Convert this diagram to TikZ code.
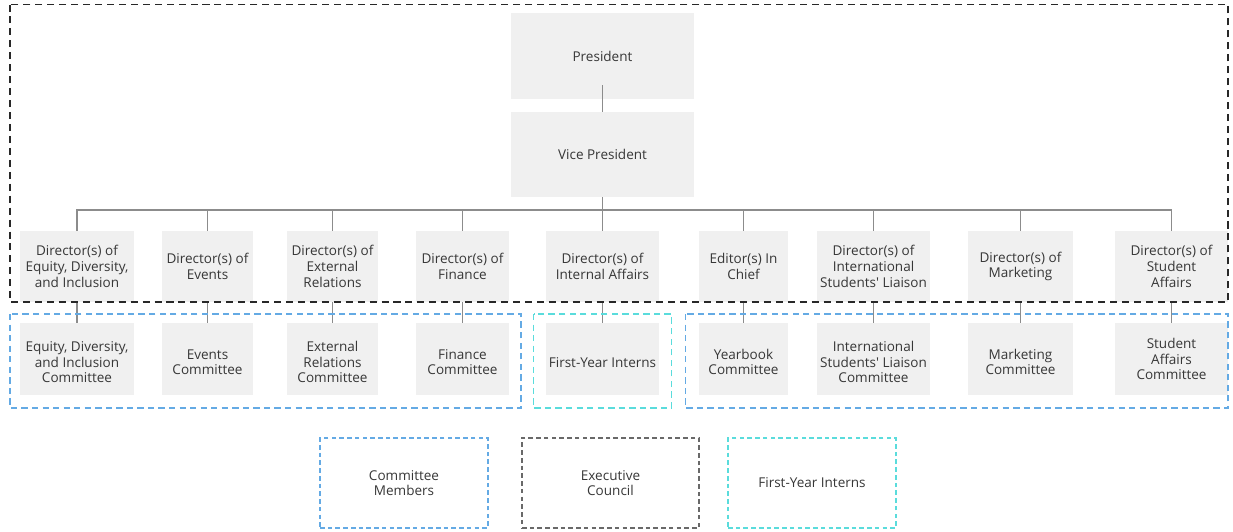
\documentclass[tikz,border=0pt]{standalone}
\usepackage{fontspec}
\setmainfont{Open Sans}
\usetikzlibrary{positioning}
\usepackage{xcolor}
\definecolor{boxgray}{RGB}{240,240,240}
\definecolor{textgray}{RGB}{55,55,55}
\definecolor{linegray}{RGB}{140,140,140}
\definecolor{councilblack}{RGB}{40,40,40}
\definecolor{committeeblue}{RGB}{100,170,228}
\definecolor{interncyan}{RGB}{90,220,220}
\definecolor{legendgray}{RGB}{105,105,105}
\newcommand{\comstrut}{\rule{0pt}{9.2pt}}

\begin{document}
\begin{tikzpicture}[x=0.02cm, y=-0.02cm,
    block/.style={rectangle, fill=boxgray, text=textgray, align=center, inner sep=0pt, font=\fontsize{7.7}{8.9}\selectfont},
    director/.style={block, minimum height=1.42cm},
    committee/.style={block, minimum height=1.44cm},
    link/.style={draw=linegray, line width=0.6pt},
    legendbox/.style={rectangle, text=textgray, align=center, inner sep=0pt, minimum height=1.8cm, line width=0.7pt, dash pattern=on 2.6pt off 1.8pt, font=\fontsize{7.7}{8.9}\selectfont},
    groupframe/.style={line width=0.85pt, dash pattern=on 3.6pt off 2.4pt}]
    \useasboundingbox (0,0) rectangle (1233,531);
    % executive council
    \node [block, minimum width=3.66cm, minimum height=1.72cm] (president) at (602.5,56) {President};
    \node [block, minimum width=3.66cm, minimum height=1.70cm] (vicepres) at (602.5,154.5) {Vice President};
    \node [director, minimum width=2.28cm] (dirEDI) at (77,266.5) {Director(s) of\\Equity, Diversity,\\and Inclusion};
    \node [director, minimum width=1.82cm] (dirEvents) at (207.5,266.5) {Director(s) of\\Events};
    \node [director, minimum width=1.82cm] (dirExternal) at (332.5,266.5) {Director(s) of\\External\\Relations};
    \node [director, minimum width=1.86cm] (dirFinance) at (462.5,266.5) {Director(s) of\\Finance};
    \node [director, minimum width=2.26cm] (dirInternal) at (602.5,266.5) {Director(s) of\\Internal Affairs};
    \node [director, minimum width=1.78cm] (dirEditor) at (743.5,266.5) {Editor(s) In\\Chief};
    \node [director, minimum width=2.26cm] (dirISL) at (873.5,266.5) {Director(s) of\\International\\Students\textquotesingle{} Liaison};
    \node [director, minimum width=2.10cm] (dirMarketing) at (1020.5,266.5) {Director(s) of\\Marketing};
    \node [director, minimum width=2.26cm] (dirStudent) at (1171.5,266.5) {Director(s) of\\Student\\Affairs};
    % committees and interns
    \node [committee, minimum width=2.28cm] (comEDI) at (77,359) {\comstrut Equity, Diversity,\\and Inclusion\\Committee};
    \node [committee, minimum width=1.82cm] (comEvents) at (207.5,359) {\comstrut Events\\Committee};
    \node [committee, minimum width=1.82cm] (comExternal) at (332.5,359) {\comstrut External\\Relations\\Committee};
    \node [committee, minimum width=1.86cm] (comFinance) at (462.5,359) {\comstrut Finance\\Committee};
    \node [committee, minimum width=2.26cm] (interns) at (602.5,359) {\comstrut First-Year Interns};
    \node [committee, minimum width=1.78cm] (comYearbook) at (743.5,359) {\comstrut Yearbook\\Committee};
    \node [committee, minimum width=2.26cm] (comISL) at (873.5,359) {\comstrut International\\Students\textquotesingle{} Liaison\\Committee};
    \node [committee, minimum width=2.10cm] (comMarketing) at (1020.5,359) {\comstrut Marketing\\Committee};
    \node [committee, minimum width=2.26cm] (comStudent) at (1171.5,359) {Student\\Affairs\\Committee};
    % connectors
    \coordinate (bus) at (602.5,210);
    \draw[link] ([yshift=0.28cm]president.south) -- (vicepres.north);
    \draw[link] (vicepres.south) -- (bus);
    \foreach \dir in {dirEDI,dirEvents,dirExternal,dirFinance,dirInternal,dirEditor,dirISL,dirMarketing,dirStudent}
        \draw[link] (\dir.north) |- (bus);
    \draw[link] (dirEDI.south) -- (comEDI.north);
    \draw[link] (dirEvents.south) -- (comEvents.north);
    \draw[link] (dirExternal.south) -- (comExternal.north);
    \draw[link] (dirFinance.south) -- (comFinance.north);
    \draw[link] (dirInternal.south) -- (interns.north);
    \draw[link] (dirEditor.south) -- (comYearbook.north);
    \draw[link] (dirISL.south) -- (comISL.north);
    \draw[link] (dirMarketing.south) -- (comMarketing.north);
    \draw[link] (dirStudent.south) -- (comStudent.north);
    % dashed groups
    \draw[councilblack, line width=1.1pt, dash pattern=on 4pt off 2.8pt] (10,4.5) rectangle (1228,302);
    \draw[groupframe, committeeblue] (10,314) rectangle (521,408);
    \draw[groupframe, interncyan] (533.5,314) rectangle (671.5,408);
    \draw[groupframe, committeeblue] (685.5,314) rectangle (1228,408);
    % legend
    \node [legendbox, draw=committeeblue, minimum width=3.36cm] (legCommittee) at (404,483) {Committee\\Members};
    \node [legendbox, draw=legendgray, minimum width=3.54cm] (legCouncil) at (610.5,483) {Executive\\Council};
    \node [legendbox, draw=interncyan, minimum width=3.36cm] (legInterns) at (812,483) {First-Year Interns};
\end{tikzpicture}
\end{document}
